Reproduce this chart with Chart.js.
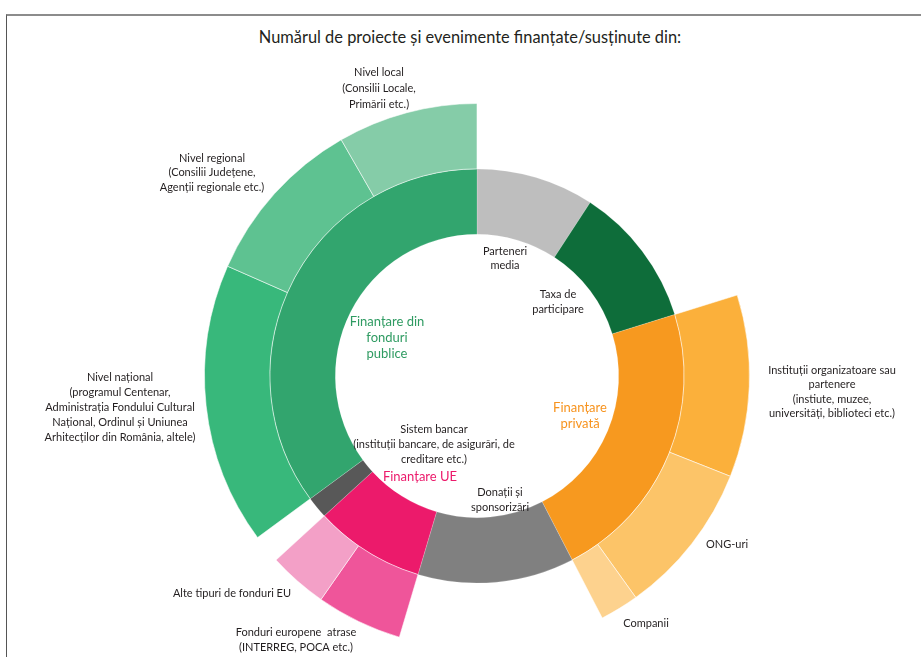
<!DOCTYPE html>
<html lang="ro">
<head>
<meta charset="utf-8">
<script src="https://cdn.jsdelivr.net/npm/chart.js@4.4.1/dist/chart.umd.min.js"></script>
<style>
    html, body { margin: 0; padding: 0; background: #fff; }
    body { width: 921px; height: 657px; position: relative; overflow: hidden; font-family: Lato, 'Open Sans', sans-serif; }
    #frame { position: absolute; left: 6px; top: 14px; right: -2px; bottom: -2px; border-top: 2px solid #8c8c8c; border-left: 1px solid #555; }
    #title { position: absolute; top: 27px; left: 0; width: 940px; margin: 0; text-align: center; font-size: 16.4px; font-weight: normal; color: #231f20; }
    #wrap { position: absolute; left: 0; top: 0; width: 921px; height: 657px; }
</style>
</head>
<body>
<div id="frame"></div>
<h1 id="title">Numărul de proiecte și evenimente finanțate/susținute din:</h1>
<div id="wrap"><canvas id="sunChart"></canvas></div>
<script>
// =====================================
// DATA (share of projects, %)
// =====================================

const innerLabels = ['Parteneri media', 'Taxa de participare', 'Finanțare privată',
    'Donații și sponsorizări', 'Finanțare UE', 'Sistem bancar', 'Finanțare din fonduri publice'];
const innerValues = [9.2, 11.0, 22.2, 12.2, 8.6, 1.7, 35.1];

const privateLabels = ['Instituții organizatoare sau partenere', 'ONG-uri', 'Companii'];
const privateValues = [10.8, 9.1, 2.3];

const ueLabels = ['Fonduri europene atrase', 'Alte tipuri de fonduri EU'];
const ueValues = [5.1, 3.5];

const publicLabels = ['Nivel național', 'Nivel regional', 'Nivel local'];
const publicValues = [16.7, 10.1, 8.3];


// =====================================
// COLOURS
// =====================================

const innerColors = ['#bebebe', '#0e6d3a', '#f7991f', '#808080', '#ec1a6b', '#585858', '#32a56e'];
const privateColors = ['#fbb03b', '#fcc468', '#fdd28e'];
const ueColors = ['#ef559a', '#f3a0c7'];
const publicColors = ['#38b87b', '#5ec291', '#85cca8'];


// =====================================
// OUTER RING (children, gaps where none)
// =====================================

const children = {
    2: { labels: privateLabels, values: privateValues, colors: privateColors },
    4: { labels: ueLabels, values: ueValues, colors: ueColors },
    6: { labels: publicLabels, values: publicValues, colors: publicColors }
};

const outerLabels = [];
const outerValues = [];
const outerColors = [];
const outerBorders = [];

innerValues.forEach((v, i) => {
    const c = children[i];
    if (c) {
        c.values.forEach((cv, j) => {
            outerLabels.push(c.labels[j]);
            outerValues.push(cv);
            outerColors.push(c.colors[j]);
            outerBorders.push(1);
        });
    } else {
        outerLabels.push('');
        outerValues.push(v);
        outerColors.push('rgba(0,0,0,0)');
        outerBorders.push(0);
    }
});


// =====================================
// TEXT LABELS (offsets from centre, px)
// =====================================

const textColor = '#231f20';

const textLabels = [
    { lines: ['Nivel local', '(Consilii Locale,', 'Primării etc.)'], dx: -98, dy: -304, lh: 16 },
    { lines: ['Nivel regional', '(Consilii Județene,', 'Agenții regionale etc.)'], dx: -265, dy: -218, lh: 14.5 },
    { lines: ['Nivel național', '(programul Centenar,', 'Administrația Fondului Cultural',
        'Național, Ordinul și Uniunea', 'Arhitecților din România, altele)'], dx: -357, dy: 1, lh: 15 },
    { lines: ['Instituții organizatoare sau', 'partenere', '(instiute, muzee,', 'universități, biblioteci etc.)'], dx: 355, dy: -6, lh: 14.5 },
    { lines: ['ONG-uri'], dx: 250, dy: 168 },
    { lines: ['Companii'], dx: 169, dy: 247 },
    { lines: ['Alte tipuri de fonduri EU'], dx: -245, dy: 217 },
    { lines: ['Fonduri europene  atrase', '(INTERREG, POCA etc.)'], dx: -181, dy: 256, lh: 15 },
    { lines: ['Parteneri', 'media'], dx: 28, dy: -125, lh: 14 },
    { lines: ['Taxa de', 'participare'], dx: 81, dy: -82, lh: 15 },
    { lines: ['Finanțare din', 'fonduri', 'publice'], dx: -90, dy: -54, lh: 16, size: 13, color: '#2f9b62' },
    { lines: ['Finanțare', 'privată'], dx: 103, dy: 32, lh: 16, size: 13, color: '#f7931e' },
    { lines: ['Sistem bancar', '(instituții bancare, de asigurări, de', 'creditare etc.)'], dx: -43, dy: 53, lh: 15 },
    { lines: ['Finanțare UE'], dx: -57, dy: 101, size: 13, color: '#ec1a6b' },
    { lines: ['Donații și', 'sponsorizări'], dx: 23, dy: 116, lh: 15 }
];

const labelPlugin = {
    id: 'sunLabels',
    afterDraw(chart) {
        const arc = chart.getDatasetMeta(1).data[0];
        if (!arc) return;
        const ctx = chart.ctx;
        ctx.save();
        ctx.textAlign = 'center';
        ctx.textBaseline = 'middle';
        textLabels.forEach(l => {
            const size = l.size || 11;
            ctx.font = size + 'px Lato, "Open Sans", sans-serif';
            ctx.fillStyle = l.color || textColor;
            l.lines.forEach((line, k) => {
                ctx.fillText(line, arc.x + l.dx, arc.y + l.dy + k * (l.lh || 15));
            });
        });
        ctx.restore();
    }
};


// =====================================
// SUNBURST (TWO DOUGHNUT RINGS)
// =====================================

new Chart(document.getElementById('sunChart'), {

    type: 'doughnut',

    data: {
        labels: innerLabels,
        datasets: [
            {
                label: 'Detaliu',
                data: outerValues,
                backgroundColor: outerColors,
                borderColor: 'rgba(255,255,255,0.55)',
                borderWidth: outerBorders
            },
            {
                label: 'Sursa',
                data: innerValues,
                backgroundColor: innerColors,
                borderColor: 'rgba(255,255,255,0.35)',
                borderWidth: 0.5
            }
        ]
    },

    options: {
        responsive: true,
        maintainAspectRatio: false,
        animation: false,
        cutout: '52%',
        layout: {
            padding: { left: 204, right: 171, top: 103, bottom: 8 }
        },
        plugins: {
            legend: { display: false },
            tooltip: { enabled: false }
        }
    },

    plugins: [labelPlugin]
});
</script>
</body>
</html>
